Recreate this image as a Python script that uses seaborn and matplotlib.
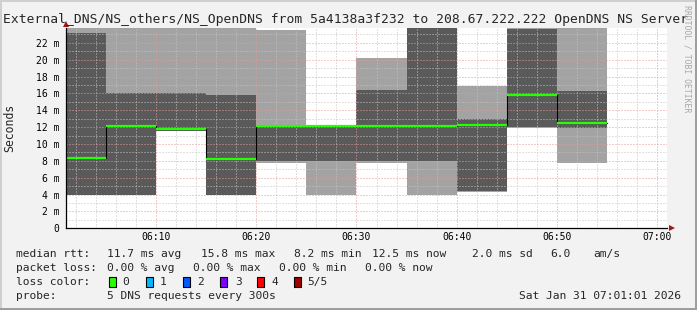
import matplotlib
matplotlib.use("Agg")
import matplotlib.pyplot as plt
import seaborn as sns
import numpy as np
from matplotlib.patches import Rectangle
from matplotlib.ticker import MultipleLocator, FuncFormatter

# ---------------- data ----------------
slot_start = ["06:00", "06:05", "06:10", "06:15", "06:20", "06:25",
              "06:30", "06:35", "06:40", "06:45", "06:50"]
ping1 = [4.0, 4.0, 11.5, 4.0, 7.8, 4.0, 7.7, 4.0, 4.3, 11.9, 7.8]
ping2 = [4.0, 4.0, 11.5, 4.0, 8.0, 8.0, 8.0, 8.0, 4.4, 12.0, 11.9]
median_rtt = [8.4, 12.1, 11.8, 8.2, 12.1, 12.1, 12.1, 12.1, 12.2, 15.8, 12.5]
ping4 = [23.2, 16.0, 16.0, 15.8, 12.2, 12.2, 16.4, 24.5, 13.0, 23.7, 16.3]
ping5 = [24.5, 24.5, 24.5, 24.5, 23.5, 12.2, 20.2, 24.5, 16.9, 24.5, 24.5]

x_tick_labels = ["06:10", "06:20", "06:30", "06:40", "06:50", "07:00"]

title = ("External_DNS/NS_others/NS_OpenDNS from 5a4138a3f232 to "
         "208.67.222.222 OpenDNS NS Server")
rtt_stats = ["11.7 ms avg", "15.8 ms max", "8.2 ms min", "12.5 ms now",
             "2.0 ms sd", "6.0", "am/s"]
loss_stats = ["0.00 % avg", "0.00 % max", "0.00 % min", "0.00 % now"]
loss_labels = ["0", "1", "2", "3", "4", "5/5"]
loss_colors = ["#26ff00", "#00b8ff", "#0059ff", "#7e00ff", "#ff0000", "#a10000"]
probe_text = "5 DNS requests every 300s"
date_text = "Sat Jan 31 07:01:01 2026"

# ---------------- style ----------------
sns.set_theme(style="white")
plt.rcParams["font.family"] = ["DejaVu Sans Mono", "DejaVu Sans"]

W, H = 697, 310
fig = plt.figure(figsize=(W / 100, H / 100), dpi=100)
fig.patch.set_facecolor("#f2f2f2")


def fx(px):
    return px / W


def fy(py):
    return 1 - py / H


ax = fig.add_axes([fx(66), fy(228.3), fx(667) - fx(66), fy(27.7) - fy(228.3)])
ax.set_facecolor("white")


def to_min(s):
    h, m = s.split(":")
    return (int(h) - 6) * 60 + int(m)


starts = np.array([to_min(s) for s in slot_start], dtype=float)
ends = starts + 5
edges = np.append(starts, ends[-1])


def ext(a):
    return np.append(a, a[-1])


# smoke: outer pair light, inner pair dark
ax.fill_between(edges, ext(ping1), ext(ping5), step="post",
                color="#a3a3a3", lw=0, zorder=1)
ax.fill_between(edges, ext(ping2), ext(ping4), step="post",
                color="#5a5a5a", lw=0, zorder=1.1)

# median step line (black) and loss-colored median segments
sns.lineplot(x=edges, y=ext(np.array(median_rtt)), drawstyle="steps-post",
             color="black", lw=0.8, ax=ax, zorder=3, estimator=None)
ax.hlines(median_rtt, starts, ends, color="#26ff00", lw=1.6, zorder=4)

ax.set_xlim(1, 61)
ax.set_ylim(0, 23.8)

# grid
ax.xaxis.set_major_locator(MultipleLocator(10))
ax.xaxis.set_minor_locator(MultipleLocator(2))
ax.yaxis.set_major_locator(MultipleLocator(2))
ax.yaxis.set_minor_locator(MultipleLocator(1))
ax.set_axisbelow(False)
ax.grid(which="major", color="#e49a9a", lw=0.72, ls=(0, (1, 2)))
ax.grid(which="minor", color="#c4c4c4", lw=0.72, ls=(0, (1, 2)))

ax.xaxis.set_major_formatter(
    FuncFormatter(lambda v, p: x_tick_labels[int(round(v / 10)) - 1]
                  if 1 <= round(v / 10) <= len(x_tick_labels) else ""))
ax.yaxis.set_major_formatter(
    FuncFormatter(lambda v, p: "0" if v == 0 else f"{v:.0f} m"))
ax.tick_params(axis="both", which="both", length=0, labelsize=7,
               colors="black")
ax.tick_params(axis="y", pad=4.5)
ax.tick_params(axis="x", pad=3)

for s in ["top", "right"]:
    ax.spines[s].set_visible(False)
for s in ["left", "bottom"]:
    ax.spines[s].set_color("black")
    ax.spines[s].set_linewidth(0.9)
    ax.spines[s].set_zorder(5)

# axis arrows
ax.plot([0], [1.0 + 3.5 / 200.6], marker="^", ms=4.5, color="#a01818",
        transform=ax.transAxes, clip_on=False, zorder=6, mew=0)
ax.plot([1 + 5 / 601], [0], marker=">", ms=4.5, color="#a01818",
        transform=ax.transAxes, clip_on=False, zorder=6, mew=0)

# title and side texts
fig.text(fx(345.5), fy(19.5), title, ha="center", va="center", fontsize=9.4)
fig.text(fx(10), fy(128), "Seconds", rotation=90, ha="center", va="center",
         fontsize=8.3)
fig.text(fx(686.5), fy(5), "RRDTOOL / TOBI OETIKER", rotation=270,
         ha="center", va="top", fontsize=5.9, color="#a8a8a8")

# legend
fs = 8.1
rows_y = [254.3, 268.3, 281.7, 296.0]
fig.text(fx(16), fy(rows_y[0]), "median rtt:", va="center", fontsize=fs)
for t, xp in zip(rtt_stats, [107.3, 200.7, 294.3, 371.7, 472.3, 550.7, 593.3]):
    fig.text(fx(xp), fy(rows_y[0]), t, va="center", fontsize=fs)
fig.text(fx(16), fy(rows_y[1]), "packet loss:", va="center", fontsize=fs)
for t, xp in zip(loss_stats, [107.3, 193.3, 279.3, 365]):
    fig.text(fx(xp), fy(rows_y[1]), t, va="center", fontsize=fs)
fig.text(fx(16), fy(rows_y[2]), "loss color:", va="center", fontsize=fs)
for lab, col, bx, lx in zip(loss_labels, loss_colors,
                            [108.7, 145.7, 182.7, 220, 257.3, 294],
                            [122.7, 160, 197, 235, 272, 307]):
    fig.patches.append(Rectangle((fx(bx), fy(rows_y[2] + 5.3)), 7 / W, 10 / H,
                                 transform=fig.transFigure, facecolor=col,
                                 edgecolor="black", lw=0.8))
    fig.text(fx(lx), fy(rows_y[2]), lab, va="center", fontsize=fs)
fig.text(fx(16), fy(rows_y[3]), "probe:", va="center", fontsize=fs)
fig.text(fx(107.3), fy(rows_y[3]), probe_text, va="center", fontsize=fs)
fig.text(fx(681), fy(rows_y[3]), date_text, va="center", ha="right",
         fontsize=fs)

# 3D frame
fig.patches.append(Rectangle((0, fy(2)), 1, 2 / H, transform=fig.transFigure,
                             facecolor="#cfcfcf", lw=0))
fig.patches.append(Rectangle((0, 0), 2 / W, 1, transform=fig.transFigure,
                             facecolor="#cfcfcf", lw=0))
fig.patches.append(Rectangle((fx(695), 0), 2 / W, 1, transform=fig.transFigure,
                             facecolor="#9e9e9e", lw=0))
fig.patches.append(Rectangle((0, 0), 1, 2 / H, transform=fig.transFigure,
                             facecolor="#9e9e9e", lw=0))

fig.savefig("out.png", dpi=100, facecolor=fig.get_facecolor())
